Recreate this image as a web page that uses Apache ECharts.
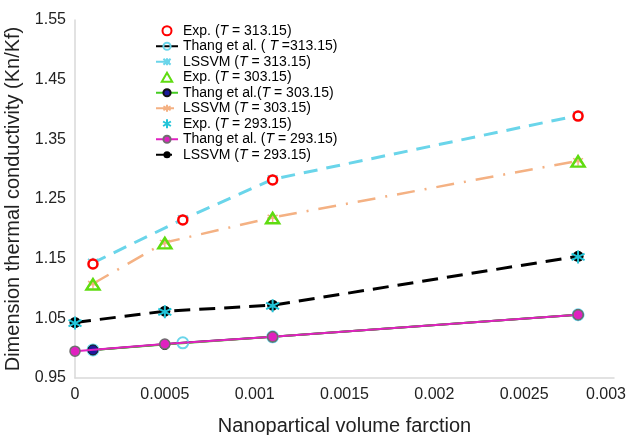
<!DOCTYPE html>
<html>
<head>
<meta charset="utf-8">
<script src="https://cdn.jsdelivr.net/npm/echarts@6/dist/echarts.min.js"></script>
<style>
  html, body { margin: 0; padding: 0; background: #fff; }
  #chart { width: 631px; height: 435px; }
</style>
</head>
<body>
<div id="chart"></div>
<script>
// Volume fractions for each temperature set
const phi313 = [0.0001, 0.0006, 0.0011, 0.0028];
const phi303 = [0.0001, 0.0005, 0.0011, 0.0028];
const phi293 = [0, 0.0005, 0.0011, 0.0028];

// Dimensionless thermal conductivity (Kn/Kf)
const exp313 = [1.141, 1.215, 1.282, 1.389];
const thang313 = [0.997, 1.009, 1.019, 1.056];
const lssvm313 = [1.143, 1.216, 1.283, 1.390];

const exp303 = [1.107, 1.176, 1.218, 1.313];
const thang303 = [0.997, 1.006, 1.019, 1.056];
const lssvm303 = [1.108, 1.177, 1.219, 1.314];

const exp293 = [1.042, 1.061, 1.071, 1.153];
const thang293 = [0.995, 1.007, 1.019, 1.056];
const lssvm293 = [1.043, 1.062, 1.072, 1.154];

const xTicks = ['0', '0.0005', '0.001', '0.0015', '0.002', '0.0025', '0.003'];
const yTicks = ['0.95', '1.05', '1.15', '1.25', '1.35', '1.45', '1.55'];

const names = {
  e313: 'Exp. (T = 313.15)',
  t313: 'Thang et al. ( T =313.15)',
  l313: 'LSSVM (T = 313.15)',
  e303: 'Exp. (T = 303.15)',
  t303: 'Thang et al.(T = 303.15)',
  l303: 'LSSVM (T = 303.15)',
  e293: 'Exp. (T = 293.15)',
  t293: 'Thang et al. (T = 293.15)',
  l293: 'LSSVM (T = 293.15)'
};

const pts = (xs, ys) => xs.map((x, i) => [x, ys[i]]);

const CYAN = '#6ad5ea';
const ORANGE = '#f4b183';
const FONT = 'Liberation Sans, Arial, sans-serif';
const asterisk = 'path://M0,-10L0,10M-8.7,-5L8.7,5M-8.7,5L8.7,-5';
const xStar = 'path://M-8,-8L8,8M-8,8L8,-8M0,-10L0,10';
const triangle = 'path://M0,10L5.77,0L11.55,10Z';

const chart = echarts.init(document.getElementById('chart'), null, { renderer: 'canvas' });

chart.setOption({
  animation: false,
  backgroundColor: '#ffffff',
  textStyle: { fontFamily: FONT },
  grid: { left: 75, right: 17, top: 20, bottom: 57, containLabel: false, outerBoundsMode: 'none' },
  legend: {
    orient: 'vertical',
    left: 150,
    top: 18,
    itemWidth: 22,
    itemHeight: 9,
    itemGap: 0,
    symbolKeepAspect: true,
    data: [names.e313, names.t313, names.l313, names.e303, names.t303, names.l303, names.e293, names.t293, names.l293],
    formatter: n => n.replace(/T(?= ?=)/, '{i|T}'),
    textStyle: {
      fontSize: 14,
      lineHeight: 15.5,
      color: '#000',
      fontFamily: FONT,
      rich: { i: { fontStyle: 'italic', fontSize: 14, lineHeight: 15.5, fontFamily: FONT } }
    }
  },
  xAxis: {
    type: 'value',
    min: 0,
    max: 0.003,
    interval: 0.0005,
    name: 'Nanopartical volume farction',
    nameLocation: 'middle',
    nameGap: 38,
    nameTextStyle: { fontSize: 20, color: '#222' },
    axisLine: { show: true, lineStyle: { color: '#d9d9d9', width: 1.5 } },
    axisTick: { show: false },
    splitLine: { show: false },
    axisLabel: {
      fontSize: 16, color: '#222', margin: 9,
      formatter: v => {
        const k = Math.round(v / 0.0005);
        return k === xTicks.length - 1 ? '{m|' + xTicks[k] + '}' : (xTicks[k] || '');
      },
      rich: { m: { fontSize: 16, color: '#222', padding: [0, 16, 0, 0], fontFamily: FONT } }
    }
  },
  yAxis: {
    type: 'value',
    min: 0.95,
    max: 1.55,
    interval: 0.05,
    name: 'Dimension thermal conductivity (Kn/Kf)',
    nameLocation: 'middle',
    nameGap: 43,
    nameTextStyle: { fontSize: 20, color: '#222' },
    axisLine: { show: true, lineStyle: { color: '#d9d9d9', width: 1.5 } },
    axisTick: { show: false },
    splitLine: { show: false },
    axisLabel: {
      fontSize: 16, color: '#222', margin: 9,
      formatter: v => {
        const k = Math.round((v - 0.95) / 0.05);
        return k % 2 === 0 ? yTicks[k / 2] : '';
      }
    }
  },
  series: [
    // model curves
    {
      name: names.l313, type: 'line', data: pts(phi313, lssvm313), z: 2,
      symbol: xStar, symbolSize: 10,
      itemStyle: { color: 'none', borderColor: CYAN, borderWidth: 1.5 },
      lineStyle: { color: CYAN, width: 3, type: [14, 9] }
    },
    {
      name: names.l303, type: 'line', data: pts(phi303, lssvm303), z: 2,
      symbol: asterisk, symbolSize: 10,
      itemStyle: { color: 'none', borderColor: ORANGE, borderWidth: 1.5 },
      lineStyle: { color: ORANGE, width: 2.5, type: [18, 10, 2, 10] }
    },
    {
      name: names.l293, type: 'line', data: pts(phi293, lssvm293), z: 2,
      symbol: 'circle', symbolSize: 11,
      itemStyle: { color: '#000', borderColor: '#000', borderWidth: 0 },
      lineStyle: { color: '#000', width: 3, type: [16, 9] }
    },
    {
      name: names.t313, type: 'line', data: pts(phi313, thang313), z: 3,
      symbol: 'circle', symbolSize: 11,
      itemStyle: { color: 'rgba(255,255,255,0)', borderColor: CYAN, borderWidth: 2 },
      lineStyle: { color: '#000', width: 2 }
    },
    {
      name: names.t303, type: 'line', data: pts(phi303, thang303), z: 3,
      symbol: 'circle', symbolSize: 10,
      itemStyle: { color: '#1c1c9c', borderColor: '#111', borderWidth: 1 },
      lineStyle: { color: '#44cc22', width: 2 }
    },
    {
      name: names.t293, type: 'line', data: pts(phi293, thang293), z: 4,
      symbol: 'circle', symbolSize: 10,
      itemStyle: { color: '#e020c0', borderColor: '#6f6f6f', borderWidth: 1.5 },
      lineStyle: { color: '#e020c0', width: 2 }
    },
    // measured points
    {
      name: names.e313, type: 'scatter', data: pts(phi313, exp313), z: 5,
      symbol: 'circle', symbolSize: 9,
      itemStyle: { color: '#ffffff', borderColor: '#ff0000', borderWidth: 2.5, opacity: 1 }
    },
    {
      name: names.e303, type: 'scatter', data: pts(phi303, exp303), z: 5,
      symbol: triangle, symbolSize: [13, 12], symbolKeepAspect: true,
      itemStyle: { color: 'rgba(255,255,255,0)', borderColor: '#5fdc10', borderWidth: 2.5, opacity: 1 }
    },
    {
      name: names.e293, type: 'scatter', data: pts(phi293, exp293), z: 5,
      symbol: asterisk, symbolSize: 13,
      itemStyle: { color: 'none', borderColor: '#22c4d8', borderWidth: 2, opacity: 1 }
    }
  ]
});
</script>
</body>
</html>
